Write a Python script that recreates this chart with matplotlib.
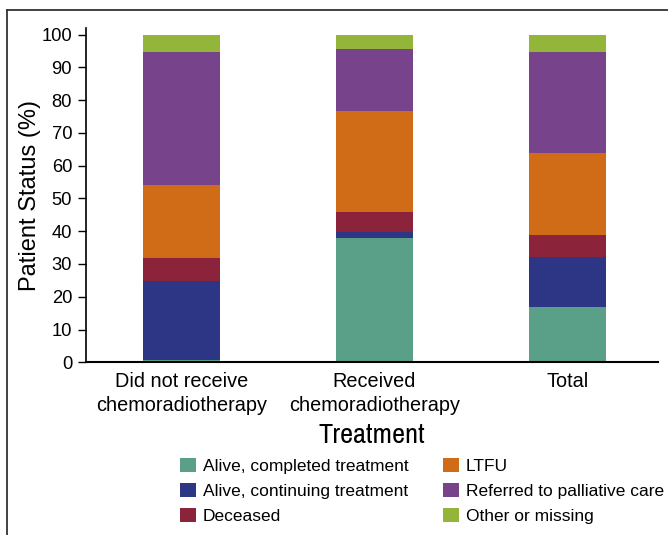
import matplotlib
matplotlib.use("Agg")
import matplotlib.pyplot as plt
from matplotlib.patches import Patch
from matplotlib.lines import Line2D
import numpy as np

categories = ["Did not receive\nchemoradiotherapy", "Received\nchemoradiotherapy", "Total"]
series_names = ["Alive, completed treatment", "Alive, continuing treatment", "Deceased",
                "LTFU", "Referred to palliative care", "Other or missing"]
completed = [0.7, 38.0, 16.9]
continuing = [24.1, 1.8, 15.1]
deceased = [7.1, 6.1, 6.9]
ltfu = [22.1, 30.9, 25.0]
palliative = [40.8, 18.9, 30.9]
other = [5.2, 4.3, 5.2]
yticks = [0, 10, 20, 30, 40, 50, 60, 70, 80, 90, 100]

colors = ["#5aa088", "#2d3585", "#8b233a", "#d06c17", "#77448b", "#93b53a"]
series = [completed, continuing, deceased, ltfu, palliative, other]
COND = ["Archivo Narrow", "Roboto Condensed", "Liberation Sans"]
REG = ["Liberation Sans", "DejaVu Sans"]

W, H = 668, 535
fig = plt.figure(figsize=(W / 100, H / 100), dpi=100)
ax = fig.add_axes([86 / W, 1 - 362.3 / H, (658 - 86) / W, (362.3 - 28) / H])

x = np.arange(len(categories))
bottom = np.zeros(len(categories))
for vals, c in zip(series, colors):
    ax.bar(x, vals, width=0.4, bottom=bottom, color=c, linewidth=0)
    bottom += np.array(vals)

ax.set_xlim(-0.495, 2.47)
ax.set_ylim(0, 102)
ax.set_yticks(yticks)
ax.set_yticklabels([str(v) for v in yticks], fontsize=13.2, family=REG)
ax.set_xticks(x)
ax.set_xticklabels(categories, fontsize=14.3, family=REG, linespacing=1.3)
ax.tick_params(axis="x", length=0, pad=7)
ax.tick_params(axis="y", length=6, width=1, direction="out", pad=4)
for s in ["top", "right"]:
    ax.spines[s].set_visible(False)
ax.spines["left"].set_linewidth(1.2)
ax.spines["bottom"].set_linewidth(1.5)
ax.set_ylabel("Patient Status (%)", fontsize=17, family=REG, labelpad=0)
ax.set_xlabel("Treatment", fontsize=20.5, family=COND, labelpad=6)

# frame lines
fig.add_artist(Line2D([7 / W, 7 / W], [0, 1 - 10 / H], color="#333333", lw=1.3))
fig.add_artist(Line2D([7 / W, 1], [1 - 10 / H, 1 - 10 / H], color="#333333", lw=1.3))

handles = [Patch(facecolor=c, edgecolor="none") for c in colors]
leg = fig.legend(handles, series_names, ncol=2, loc="upper left",
                 bbox_to_anchor=(164 / W, 1 - 442 / H), frameon=False,
                 prop={"family": REG, "size": 12.5},
                 handlelength=0.92, handleheight=0.92, handletextpad=0.4,
                 columnspacing=2.0, labelspacing=0.5)

fig.savefig("out.png", dpi=100)
